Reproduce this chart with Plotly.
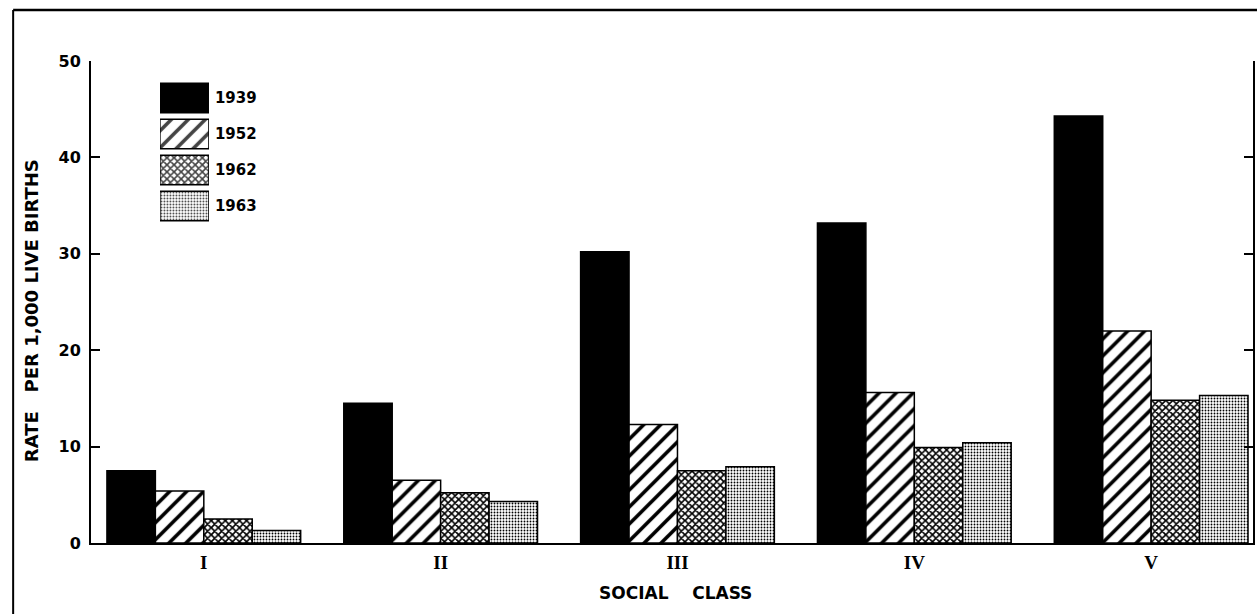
import plotly.graph_objects as go

# ---- data ----
classes = ["I", "II", "III", "IV", "V"]
years = ["1939", "1952", "1962", "1963"]
rate_1939 = [7.5, 14.5, 30.2, 33.2, 44.3]
rate_1952 = [5.4, 6.5, 12.3, 15.6, 22.0]
rate_1962 = [2.5, 5.2, 7.5, 9.9, 14.8]
rate_1963 = [1.3, 4.3, 7.9, 10.4, 15.3]
y_ticks = [0, 10, 20, 30, 40, 50]

series = [rate_1939, rate_1952, rate_1962, rate_1963]

# ---- styles ----
styles = {
    "1939": dict(color="black", shape="", size=8, solidity=0.3),
    "1952": dict(color="white", shape="/", size=12, solidity=0.3),
    "1962": dict(color="white", shape="x", size=5, solidity=0.55),
    "1963": dict(color="white", shape=".", size=3, solidity=0.3),
}

TICKFONT = dict(family="DejaVu Sans", size=16, color="black", weight="bold")


def pattern(st):
    return dict(shape=st["shape"], fgcolor="black", bgcolor=st["color"],
                fgopacity=1, size=st["size"], solidity=st["solidity"])


fig = go.Figure()
for yr, vals in zip(years, series):
    st = styles[yr]
    fig.add_trace(go.Bar(
        x=classes, y=vals, name=yr, showlegend=False,
        marker=dict(color=st["color"], pattern=pattern(st),
                    line=dict(color="black", width=1.5)),
        xaxis="x", yaxis="y",
    ))

# legend swatches drawn as a small bar subplot
fig.add_trace(go.Bar(
    y=years, x=[1, 1, 1, 1], orientation="h", showlegend=False,
    marker=dict(
        color=[styles[y]["color"] for y in years],
        pattern=dict(
            shape=[styles[y]["shape"] for y in years],
            fgcolor="black", fgopacity=1,
            bgcolor=[styles[y]["color"] for y in years],
            size=[styles[y]["size"] for y in years],
            solidity=[styles[y]["solidity"] for y in years],
        ),
        line=dict(color="black", width=1.5),
    ),
    xaxis="x2", yaxis="y2",
))

fig.update_layout(
    width=1257, height=614,
    margin=dict(l=91, r=2, t=61, b=71),
    paper_bgcolor="white", plot_bgcolor="white",
    barmode="group", bargap=0.182, bargroupgap=0,
    xaxis=dict(
        type="category", categoryorder="array", categoryarray=classes,
        range=[-0.4763, 4.430],
        showline=True, linecolor="black", linewidth=2,
        ticks="", showgrid=False, zeroline=False,
        tickfont=dict(family="Liberation Serif", size=19, color="black", weight="bold"),
        ticklabelstandoff=1,
    ),
    yaxis=dict(
        range=[0, 50], tickvals=y_ticks,
        showline=True, linecolor="black", linewidth=2, mirror="ticks",
        ticks="inside", ticklen=9, tickwidth=2, tickcolor="black",
        showgrid=False, zeroline=False,
        tickfont=TICKFONT, ticklabelstandoff=5,
    ),
    xaxis2=dict(
        domain=[0.0593, 0.1015], anchor="y2", range=[0, 1],
        visible=False, showgrid=False, zeroline=False, fixedrange=True,
    ),
    yaxis2=dict(
        domain=[0.6618, 0.9606], anchor="x2", side="right",
        type="category", categoryorder="array", categoryarray=years,
        autorange="reversed", showgrid=False, zeroline=False, showline=False,
        ticks="", tickfont=dict(family="DejaVu Sans", size=15, color="black", weight="bold"),
        ticklabelstandoff=5,
    ),
    annotations=[
        dict(text="RATE&nbsp;&nbsp;&nbsp;PER 1,000 LIVE BIRTHS", xref="paper", yref="paper",
             x=-0.0516, y=0.481, textangle=-90, showarrow=False,
             xanchor="center", yanchor="middle",
             font=dict(family="DejaVu Sans", size=18, color="black", weight="bold")),
        dict(text="SOCIAL&nbsp;&nbsp;&nbsp;&nbsp;CLASS", xref="paper", yref="paper",
             x=0.503, y=-0.104, showarrow=False, xanchor="center", yanchor="middle",
             font=dict(family="DejaVu Sans", size=17, color="black", weight="bold")),
    ],
    shapes=[
        dict(type="line", xref="paper", yref="paper", x0=-0.067, x1=-0.067, y0=-0.2, y1=1.106,
             line=dict(color="black", width=2)),
        dict(type="line", xref="paper", yref="paper", x0=-0.067, x1=1.01, y0=1.106, y1=1.106,
             line=dict(color="black", width=2.5)),
    ],
)

fig.write_html(
    "out.html",
    config={"displayModeBar": False},
    post_script="document.body.style.margin='0';document.body.style.overflow='hidden';",
)
